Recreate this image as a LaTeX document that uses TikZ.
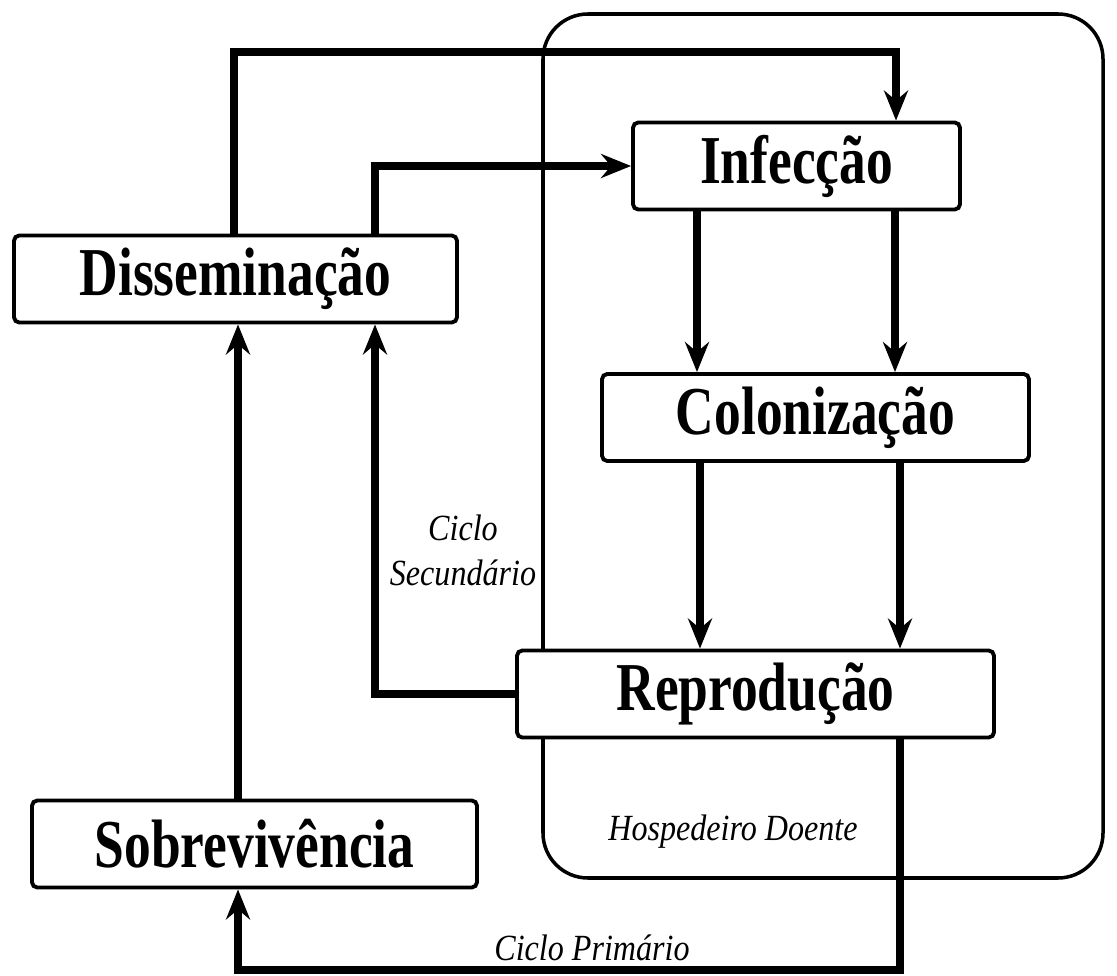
\documentclass[tikz,border=0pt]{standalone}
\usepackage{fontspec}
\setmainfont{Liberation Serif}
\newfontfamily\stagefont[FakeStretch=0.78]{Liberation Serif}
\newfontfamily\notefont[FakeStretch=0.87]{Liberation Serif}
\usetikzlibrary{arrows.meta}

\begin{document}
\begin{tikzpicture}[
    stage/.style={draw, fill=white, line width=1.1pt, rounded corners=1.5pt, minimum height=0.87cm, inner sep=0pt, font=\stagefont\bfseries\fontsize{19.5}{22}\selectfont},
    flow/.style={line width=2pt, -{Stealth[length=0.3cm, width=0.24cm, inset=0.1cm]}},
    note/.style={font=\notefont\itshape\fontsize{10.5}{12.8}\selectfont, align=center}
  ]
  \useasboundingbox (0,0) rectangle (11.17,-9.76);
  \draw[line width=1pt, rounded corners=0.45cm] (5.43,-0.14) rectangle (11.03,-8.78);
  \node[note] (host) at (7.33,-8.32) {Hospedeiro Doente};

  \node[stage, minimum width=4.43cm] (dissem) at (2.355,-2.79) {Disseminação};
  \node[stage, minimum width=3.27cm] (infec) at (7.965,-1.66) {Infecção};
  \node[stage, minimum width=4.27cm] (colon) at (8.155,-4.175) {Colonização};
  \node[stage, minimum width=4.77cm] (repro) at (7.555,-6.94) {Reprodução};
  \node[stage, minimum width=4.45cm] (sobre) at (2.545,-8.44) {Sobrevivência};

  \draw[flow] (2.34,0 |- dissem.north) |- (8.96,-0.52) -- (8.96,0 |- infec.north);
  \draw[flow] (3.75,0 |- dissem.north) |- (infec.west);
  \foreach \x in {6.97, 8.95} {
    \draw[flow] (\x,0 |- infec.south) -- (\x,0 |- colon.north);
  }
  \foreach \x in {7.00, 9.00} {
    \draw[flow] (\x,0 |- colon.south) -- (\x,0 |- repro.north);
  }
  % ciclo secundario
  \draw[flow] (repro.west) -| (3.75,0 |- dissem.south);
  \node[note] (cyc2) at (4.63,-5.5) {Ciclo\\Secundário};
  % ciclo primario
  \draw[flow] (9.00,0 |- repro.south) |- (2.38,-9.70) -- (2.38,0 |- sobre.south);
  \node[note] (cyc1) at (5.92,-9.48) {Ciclo Primário};
  \draw[flow] (2.38,0 |- sobre.north) -- (2.38,0 |- dissem.south);
\end{tikzpicture}
\end{document}
